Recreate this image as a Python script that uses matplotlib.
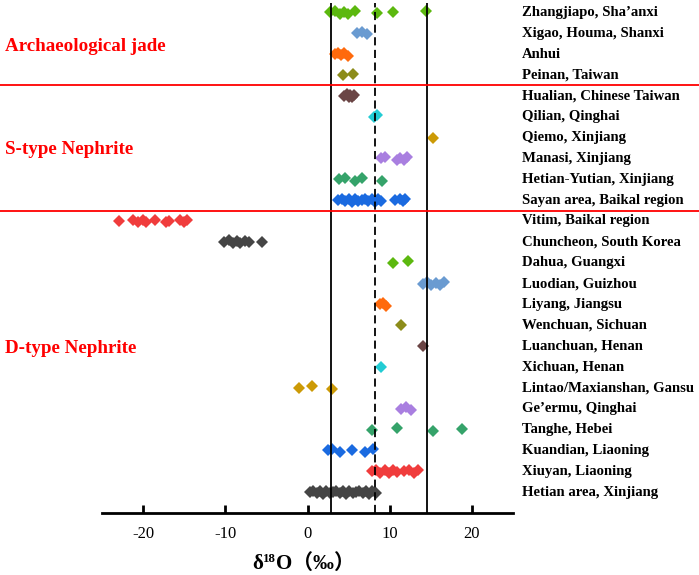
import matplotlib
matplotlib.use("Agg")
import matplotlib.pyplot as plt
from matplotlib.transforms import blended_transform_factory

plt.rcParams['axes.unicode_minus'] = False
plt.rcParams['font.family'] = ['Liberation Serif', 'Noto Sans CJK SC', 'DejaVu Sans']

# ---- data (top to bottom) ----
labels = [
    "Zhangjiapo, Sha\u2019anxi", "Xigao, Houma, Shanxi", "Anhui", "Peinan, Taiwan",
    "Hualian, Chinese Taiwan", "Qilian, Qinghai", "Qiemo, Xinjiang", "Manasi, Xinjiang",
    "Hetian-Yutian, Xinjiang", "Sayan area, Baikal region",
    "Vitim, Baikal region", "Chuncheon, South Korea", "Dahua, Guangxi", "Luodian, Guizhou",
    "Liyang, Jiangsu", "Wenchuan, Sichuan", "Luanchuan, Henan", "Xichuan, Henan",
    "Lintao/Maxianshan, Gansu", "Ge\u2019ermu, Qinghai", "Tanghe, Hebei",
    "Kuandian, Liaoning", "Xiuyan, Liaoning", "Hetian area, Xinjiang",
]

zhangjiapo = [2.7, 3.4, 4.0, 4.4, 4.9, 5.8, 8.5, 10.4, 14.4]
xigao = [6.0, 6.6, 7.2]
anhui = [3.3, 3.7, 4.1, 4.4, 4.9]
peinan = [4.3, 5.5]
hualian = [4.5, 4.8, 5.0, 5.2, 5.4, 5.6]
qilian = [8.1, 8.5]
qiemo = [15.3]
manasi = [9.0, 9.4, 10.9, 11.3, 11.7, 12.1]
hetian_yutian = [3.8, 4.6, 5.8, 6.6, 9.1]
sayan = [3.7, 4.2, 4.6, 5.0, 5.4, 5.8, 6.2, 6.6, 7.0, 7.4, 7.8, 8.2, 8.6, 9.0,
         10.7, 11.2, 11.6, 11.9]
vitim = [-22.9, -21.2, -20.6, -20.0, -19.6, -18.6, -17.2, -16.8, -15.5, -15.0, -14.6]
chuncheon = [-10.2, -9.6, -9.1, -8.6, -8.2, -7.6, -7.1, -5.5]
dahua = [10.4, 12.2]
luodian = [14.0, 14.5, 15.0, 15.6, 16.1, 16.6]
liyang = [8.8, 9.2, 9.6]
wenchuan = [11.35]
luanchuan = [14.1]
xichuan = [9.0]
lintao = [-1.0, 0.5, 3.0]
geermu = [11.4, 12.0, 12.6]
tanghe = [7.8, 10.9, 15.3, 18.8]
kuandian = [2.5, 3.0, 3.9, 5.4, 7.0, 8.0]
xiuyan = [7.8, 8.3, 8.8, 9.4, 9.9, 10.4, 10.9, 11.8, 12.3, 12.9, 13.4]
hetian_area = [0.3, 0.7, 1.1, 1.5, 1.9, 2.3, 2.7, 3.1, 3.5, 3.9, 4.3, 4.7, 5.1,
               5.5, 5.9, 6.3, 6.7, 7.1, 7.5, 7.9, 8.3]

series = [zhangjiapo, xigao, anhui, peinan, hualian, qilian, qiemo, manasi,
          hetian_yutian, sayan, vitim, chuncheon, dahua, luodian, liyang, wenchuan,
          luanchuan, xichuan, lintao, geermu, tanghe, kuandian, xiuyan, hetian_area]

group_names = ["Archaeological jade", "S-type Nephrite", "D-type Nephrite"]
ref_lines = [2.9, 8.2, 14.5]
xticks = [-20, -10, 0, 10, 20]

# ---- style ----
palette = ['#5CB80F', '#6A9BD1', '#FF6A0D', '#8C8C1A', '#6B4545', '#22CCD4',
           '#CC9A06', '#A97FE0', '#35A36A', '#1A6AE0', '#F03C3C', '#454545']
jitter = [0.0, 0.07, -0.06, 0.04, -0.07, 0.06, -0.03]

fig = plt.figure(figsize=(6.99, 5.75), dpi=100)
ax = fig.add_axes([102/699, 1-513/575, 411/699, 510/575])

n = len(series)
for i, vals in enumerate(series):
    y = n - 1 - i
    ys = [y + jitter[k % len(jitter)] for k in range(len(vals))]
    ax.plot(vals, ys, linestyle='none', marker='D', markersize=5.8,
            color=palette[i % len(palette)], markeredgewidth=0)

ax.set_xlim(-25, 25)
ax.set_ylim(-1, 23.45)

ax.axvline(ref_lines[0], color='black', lw=1.3)
ax.axvline(ref_lines[1], color='black', lw=1.3, ls=(0, (4.5, 2.5)))
ax.axvline(ref_lines[2], color='black', lw=1.3)

for yy in [19.5, 13.5]:
    ax.axhline(yy, xmin=-102/411, xmax=(699-102)/411, color='#FF0000', lw=1.3,
               clip_on=False)

trans = blended_transform_factory(ax.transAxes, ax.transData)
for i, lab in enumerate(labels):
    ax.text(1.022, n - 1 - i, lab, transform=trans, ha='left', va='center',
            fontsize=10.6, fontweight='bold', color='black')

for name, yy in zip(group_names, [21.35, 16.42, 6.87]):
    ax.text(-0.236, yy, name, transform=trans, ha='left', va='center',
            fontsize=13.7, fontweight='bold', color='#FF0000')

for s in ['left', 'right', 'top']:
    ax.spines[s].set_visible(False)
ax.spines['bottom'].set_linewidth(2.0)
ax.set_yticks([])
ax.set_xticks(xticks)
ax.set_xticklabels([str(t) for t in xticks])
ax.tick_params(axis='x', direction='in', length=6, width=2.0, labelsize=12, pad=9)

# x label: δ^18O（‰）
fig.canvas.draw()
r = fig.canvas.get_renderer()
fs = 15
base_y = 1 - 569/575
t1 = fig.text(0, base_y, "\u03b4", fontsize=fs, fontweight='bold', va='baseline')
t2 = fig.text(0, base_y, "18", fontsize=fs*0.62, fontweight='bold', va='baseline')
t3 = fig.text(0, base_y, "O\uff08\u2030\uff09", fontsize=fs, fontweight='bold', va='baseline',
              family=['Liberation Serif', 'Noto Sans CJK SC'])
w1 = t1.get_window_extent(r).width
w2 = t2.get_window_extent(r).width
w3 = t3.get_window_extent(r).width
total = w1 + w2 + w3
cx = (102 + 513) / 2 - 4
x0 = cx - total / 2
t1.set_x(x0 / 699)
t2.set_x((x0 + w1) / 699)
t2.set_y(base_y + 7.5 / 575)
t3.set_x((x0 + w1 + w2) / 699)

fig.savefig("out.png", dpi=100)
